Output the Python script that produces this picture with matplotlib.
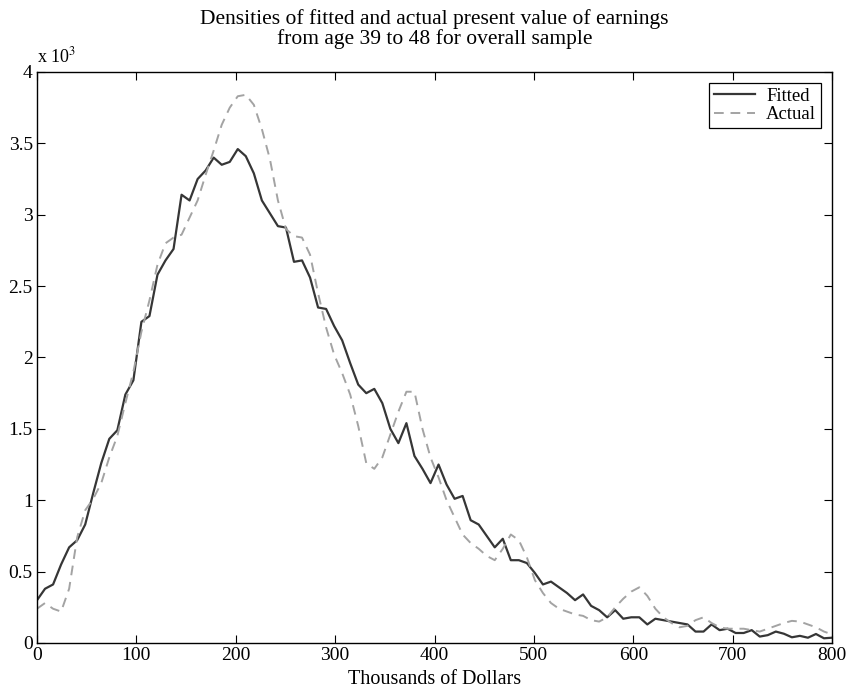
import numpy as np
import matplotlib
matplotlib.use('Agg')
import matplotlib.pyplot as plt

plt.rcParams['font.family'] = ['Liberation Serif', 'DejaVu Serif']
plt.rcParams['mathtext.fontset'] = 'stix'

fitted = [0.30, 0.38, 0.41, 0.55, 0.67, 0.72, 0.83, 1.05, 1.26, 1.43,
          1.49, 1.74, 1.84, 2.25, 2.29, 2.58, 2.68, 2.76, 3.14, 3.10,
          3.25, 3.31, 3.40, 3.35, 3.37, 3.46, 3.41, 3.29, 3.10, 3.01,
          2.92, 2.91, 2.67, 2.68, 2.56, 2.35, 2.34, 2.22, 2.12, 1.96,
          1.81, 1.75, 1.78, 1.68, 1.50, 1.40, 1.54, 1.31, 1.22, 1.12,
          1.25, 1.11, 1.01, 1.03, 0.86, 0.83, 0.75, 0.67, 0.73, 0.58,
          0.58, 0.56, 0.49, 0.41, 0.43, 0.39, 0.35, 0.30, 0.34, 0.26,
          0.23, 0.18, 0.23, 0.17, 0.18, 0.18, 0.13, 0.17, 0.16, 0.15,
          0.14, 0.13, 0.08, 0.08, 0.13, 0.09, 0.10, 0.07, 0.07, 0.09,
          0.045, 0.055, 0.08, 0.065, 0.04, 0.05, 0.037, 0.063, 0.033, 0.037]

actual = [0.24, 0.28, 0.24, 0.22, 0.38, 0.74, 0.93, 1.01, 1.12, 1.30,
          1.45, 1.68, 1.90, 2.18, 2.40, 2.65, 2.80, 2.84, 2.86, 2.98,
          3.10, 3.28, 3.45, 3.63, 3.75, 3.83, 3.84, 3.77, 3.60, 3.39,
          3.10, 2.90, 2.85, 2.84, 2.72, 2.45, 2.21, 2.02, 1.89, 1.74,
          1.52, 1.26, 1.22, 1.30, 1.46, 1.62, 1.76, 1.76, 1.50, 1.30,
          1.16, 1.00, 0.88, 0.76, 0.70, 0.66, 0.61, 0.58, 0.66, 0.76,
          0.72, 0.60, 0.44, 0.35, 0.28, 0.24, 0.22, 0.20, 0.19, 0.16,
          0.15, 0.18, 0.25, 0.31, 0.36, 0.39, 0.33, 0.24, 0.18, 0.14,
          0.11, 0.12, 0.16, 0.18, 0.14, 0.11, 0.10, 0.10, 0.10, 0.09,
          0.08, 0.10, 0.12, 0.14, 0.155, 0.15, 0.13, 0.11, 0.08, 0.06]

x = np.linspace(0, 800, len(fitted))  # thousands of dollars

xticks = [0, 100, 200, 300, 400, 500, 600, 700, 800]
yticks = [0, 0.5, 1, 1.5, 2, 2.5, 3, 3.5, 4]
ytick_labels = ['0', '0.5', '1', '1.5', '2', '2.5', '3', '3.5', '4']

fig = plt.figure(figsize=(8.51, 6.94), dpi=100)
ax = fig.add_axes([0.0435, 0.0735, 0.9342, 0.8228])

ax.plot(x, fitted, color='#363636', lw=1.6, label='Fitted')
ax.plot(x, actual, color='#a3a3a3', lw=1.4, dashes=(5, 3.5), label='Actual')

ax.set_xlim(0, 800)
ax.set_ylim(0, 4)
ax.set_xticks(xticks)
ax.set_yticks(yticks)
ax.set_yticklabels(ytick_labels)
ax.tick_params(direction='in', length=5.5, width=0.8, top=True, right=True,
               labelsize=14, pad=3)
for s in ax.spines.values():
    s.set_linewidth(1.0)

ax.set_xlabel('Thousands of Dollars', fontsize=14.5, labelpad=4)
ax.set_title('Densities of fitted and actual present value of earnings\n'
             'from age 39 to 48 for overall sample', fontsize=15.5, linespacing=1.0, pad=20)
ax.text(0.0, 1.01, r'x 10$^{3}$', transform=ax.transAxes, fontsize=13,
        ha='left', va='bottom')

leg = ax.legend(loc='upper right', fontsize=13.5, fancybox=False, framealpha=1,
                edgecolor='black', handlelength=2.2, borderaxespad=0.6,
                borderpad=0.25, labelspacing=0.05, handletextpad=0.6)
leg.get_frame().set_linewidth(0.9)

fig.savefig('out.png', dpi=100)
